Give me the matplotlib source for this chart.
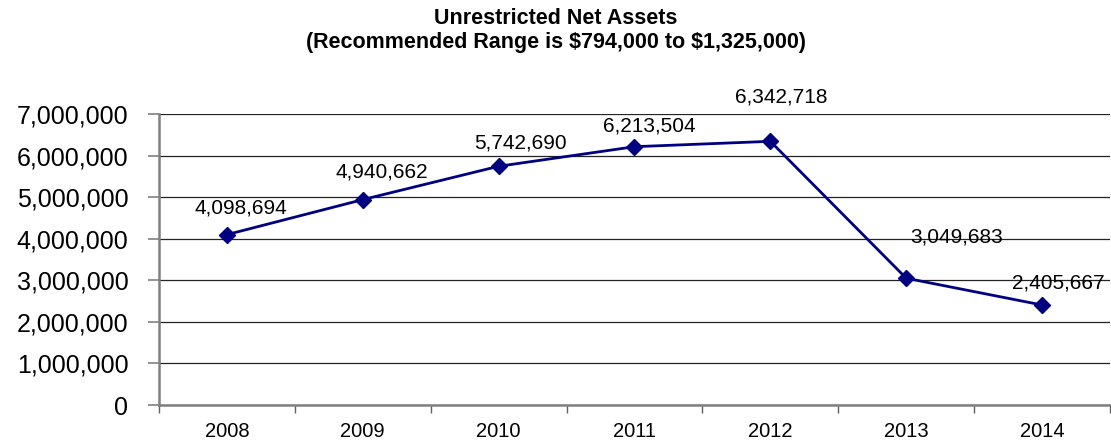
import matplotlib
matplotlib.use("Agg")
import matplotlib.pyplot as plt
from matplotlib.ticker import FuncFormatter, FixedLocator

plt.rcParams['font.family'] = ['Liberation Sans', 'DejaVu Sans']

years = ["2008", "2009", "2010", "2011", "2012", "2013", "2014"]
net_assets = [4098694, 4940662, 5742690, 6213504, 6342718, 3049683, 2405667]

# label offsets in points (dx, dy) relative to each marker
label_offsets = [(10, 19), (14, 20), (16, 17), (11, 15), (8, 32), (36, 30), (12, 16)]

fig = plt.figure(figsize=(11.11, 4.41), dpi=100)
ax = fig.add_axes([0.1431, 0.0816, 0.8560, 0.6599])

x = list(range(len(years)))
ax.plot(x, net_assets, color="#000080", lw=2, marker="D", markersize=8, zorder=3)

for xi, v, (dx, dy) in zip(x, net_assets, label_offsets):
    ax.annotate(f"{v:,}", (xi, v), xytext=(dx, dy), textcoords="offset points",
                ha="center", va="center", fontsize=15, color="black")

ax.set_xlim(-0.5, len(years) - 0.5)
ax.set_ylim(0, 7000000)
ax.set_yticks(range(0, 7000001, 1000000))
ax.yaxis.set_major_formatter(FuncFormatter(lambda v, p: f"{int(v):,}"))
ax.tick_params(axis="y", labelsize=18, length=8, color="#808080", width=1.2, pad=14)

ax.set_xticks(x)
ax.set_xticklabels(years)
ax.xaxis.set_minor_locator(FixedLocator([i - 0.5 for i in range(len(years) + 1)]))
ax.tick_params(axis="x", which="major", length=0, labelsize=14.5, pad=12)
ax.tick_params(axis="x", which="minor", length=6, color="#606060", width=1)

ax.yaxis.grid(True, color="#222222", lw=0.9)
ax.set_axisbelow(True)
for s in ("top", "right"):
    ax.spines[s].set_visible(False)
for s in ("left", "bottom"):
    ax.spines[s].set_color("#808080")
    ax.spines[s].set_linewidth(1.8)

fig.text(0.5, 0.930, "Unrestricted Net Assets\n(Recommended Range is \\$794,000 to \\$1,325,000)",
         ha="center", va="center", fontsize=15.5, fontweight="bold", linespacing=1.2)

fig.savefig("out.png", dpi=100)
